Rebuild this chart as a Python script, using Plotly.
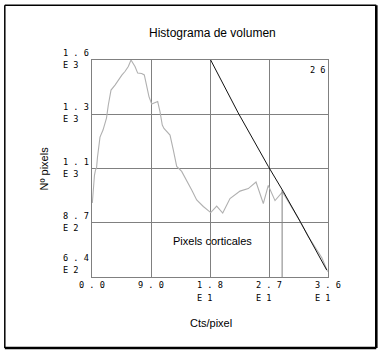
import plotly.graph_objects as go

# ---- data ----
hist_cts = [0.05, 0.20, 0.38, 0.53, 0.69, 0.84, 0.99, 1.22, 1.68, 2.21, 2.49, 2.90, 3.51, 4.01,
            4.58, 5.03, 5.54, 5.95, 6.56, 6.97, 7.58, 7.98, 8.34, 8.69, 9.11, 9.61, 10.02, 10.37,
            10.72, 10.98, 11.44, 11.90, 12.40, 12.92, 13.68, 14.45, 15.21, 15.97, 16.98, 18.11,
            19.02, 19.94, 21.05, 22.58, 23.84, 25.02, 26.13, 26.89, 27.92, 29.06, 30.20, 31.73,
            32.95, 34.17, 35.08, 35.95]
hist_counts = [967, 1034, 1091, 1113, 1122, 1171, 1202, 1259, 1290, 1343, 1401, 1467, 1489, 1512,
               1534, 1549, 1571, 1600, 1571, 1542, 1540, 1534, 1483, 1438, 1405, 1410, 1416, 1372,
               1312, 1297, 1284, 1268, 1202, 1129, 1107, 1062, 1025, 981, 952, 925,
               954, 923, 987, 1020, 1031, 1060, 965, 1045, 978, 1016, 963, 888,
               821, 768, 724, 664]

cum_cts = [18.1, 22.3, 26.9, 29.2, 31.7, 35.8]
cum_vals = [1600, 1366, 1129, 1017, 888, 671]

cursor_cts = [29.0, 29.0]
cursor_vals = [640, 1025]

x_ticks = [0, 9, 18, 27, 36]
x_mant = ["0 . 0", "9 . 0", "1 . 8", "2 . 7", "3 . 6"]
x_exp = ["", "", "E 1", "E 1", "E 1"]

y_ticks = [640, 880, 1120, 1360, 1600]
y_mant = ["6 . 4", "8 . 7", "1 . 1", "1 . 3", "1 . 6"]
y_exp = ["E 2", "E 2", "E 3", "E 3", "E 3"]

corner_label = "2 6"
title_text = "Histograma de volumen"
x_title = "Cts/pixel"
y_title = "Nº pixels"
region_label = "Pixels corticales"

# ---- layout geometry (pixels) ----
W, H = 384, 356
L, R, T, B = 92, 56, 60, 79
PW, PH = W - L - R, H - T - B


def px_x(p):
    return (p - L) / PW


def px_y(p):
    return (H - B - p) / PH


GRID = "#808080"
MONO = dict(family="DejaVu Sans Mono", size=8.6, color="#000000")
SANS = "Liberation Sans, Arial, sans-serif"

fig = go.Figure()
fig.add_trace(go.Scatter(x=hist_cts, y=hist_counts, mode="lines",
                         line=dict(color="#b0b0b0", width=1.1), hoverinfo="skip"))
fig.add_trace(go.Scatter(x=cursor_cts, y=cursor_vals, mode="lines",
                         line=dict(color=GRID, width=1), hoverinfo="skip"))
fig.add_trace(go.Scatter(x=cum_cts, y=cum_vals, mode="lines",
                         line=dict(color="#111111", width=1), hoverinfo="skip"))

ann = []
# x tick labels
for xv, m, e in zip(x_ticks, x_mant, x_exp):
    ann.append(dict(x=xv, xref="x", y=0, yref="paper", text=m, showarrow=False,
                    xanchor="center", yanchor="middle", yshift=-8, font=MONO))
    if e:
        ann.append(dict(x=xv, xref="x", y=0, yref="paper", text=e, showarrow=False,
                        xanchor="center", yanchor="middle", yshift=-21, xshift=-5, font=MONO))
# y tick labels
for i, (yv, m, e) in enumerate(zip(y_ticks, y_mant, y_exp)):
    s1, s2 = (19.5, 7) if i == 0 else (7, -5)
    ann.append(dict(x=px_x(61), xref="paper", y=yv, yref="y", text=m, showarrow=False,
                    xanchor="left", yanchor="middle", yshift=s1, font=MONO))
    ann.append(dict(x=px_x(61), xref="paper", y=yv, yref="y", text=e, showarrow=False,
                    xanchor="left", yanchor="middle", yshift=s2, font=MONO))

ann.append(dict(x=1.0, xref="paper", y=px_y(70), yref="paper", text=corner_label,
                showarrow=False, xanchor="right", yanchor="middle", font=MONO))
ann.append(dict(x=px_x(212), xref="paper", y=px_y(33), yref="paper", text=title_text,
                showarrow=False, xanchor="center", yanchor="middle",
                font=dict(family=SANS, size=12, color="#000000")))
ann.append(dict(x=px_x(211), xref="paper", y=px_y(322.5), yref="paper", text=x_title,
                showarrow=False, xanchor="center", yanchor="middle",
                font=dict(family=SANS, size=11, color="#000000")))
ann.append(dict(x=px_x(43), xref="paper", y=px_y(168.5), yref="paper", text=y_title,
                showarrow=False, xanchor="center", yanchor="middle", textangle=-90,
                font=dict(family=SANS, size=11, color="#000000")))
ann.append(dict(x=px_x(212), xref="paper", y=px_y(240.5), yref="paper", text=region_label,
                showarrow=False, xanchor="center", yanchor="middle",
                font=dict(family=SANS, size=11, color="#000000")))

fx0, fx1, fy0, fy1 = px_x(4.8), px_x(376.3), px_y(348), px_y(5.3)
shapes = [
    dict(type="line", xref="paper", yref="paper", x0=fx0, x1=fx1, y0=fy1, y1=fy1,
         line=dict(color="#000000", width=1.5)),
    dict(type="line", xref="paper", yref="paper", x0=fx0, x1=fx0, y0=fy0, y1=fy1,
         line=dict(color="#000000", width=1.5)),
    dict(type="line", xref="paper", yref="paper", x0=fx1, x1=fx1, y0=fy0, y1=fy1,
         line=dict(color="#000000", width=2.6)),
    dict(type="line", xref="paper", yref="paper", x0=fx0, x1=fx1, y0=fy0, y1=fy0,
         line=dict(color="#000000", width=2.6)),
]

axis_common = dict(showgrid=True, gridcolor=GRID, gridwidth=1, zeroline=False,
                   showticklabels=False, ticks="", showline=True, mirror=True,
                   linecolor=GRID, linewidth=1, fixedrange=True)

fig.update_layout(
    width=W, height=H,
    margin=dict(l=L, r=R, t=T, b=B, pad=0),
    paper_bgcolor="#ffffff", plot_bgcolor="#ffffff",
    showlegend=False,
    xaxis=dict(range=[0, 36], tickvals=x_ticks, **axis_common),
    yaxis=dict(range=[640, 1600], tickvals=y_ticks, **axis_common),
    annotations=ann,
    shapes=shapes,
)

fig.write_html("out.html", config={"displayModeBar": False},
               post_script="document.body.style.margin='0';document.body.style.overflow='hidden';")
